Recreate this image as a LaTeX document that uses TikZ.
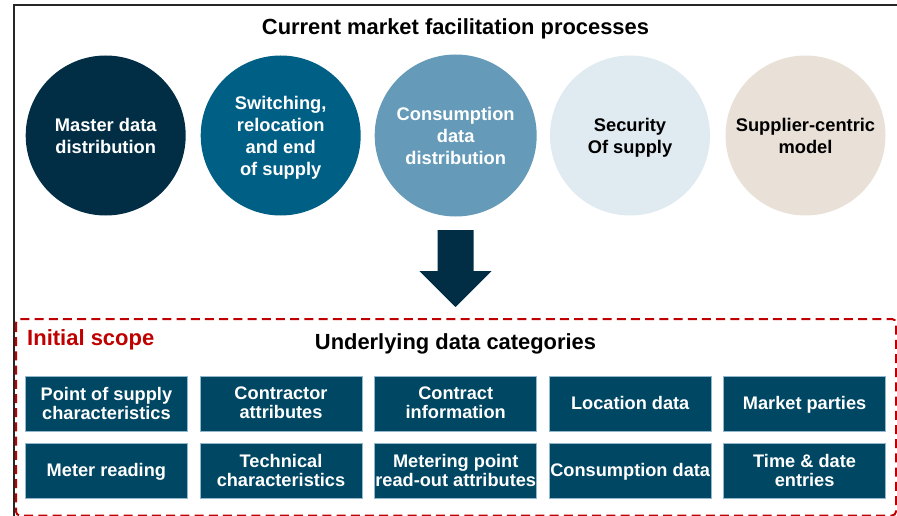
\documentclass[tikz,border=0pt]{standalone}
\usepackage{fontspec}
\setmainfont{Liberation Sans}
\usepackage{xcolor}
\definecolor{navy}{HTML}{012E45}
\definecolor{petrol}{HTML}{005F85}
\definecolor{steel}{HTML}{659AB9}
\definecolor{mist}{HTML}{E0EAF1}
\definecolor{sand}{HTML}{E9E0D8}
\definecolor{boxfill}{HTML}{004763}
\definecolor{scopered}{HTML}{C00000}
\tikzset{
  frameline/.style={draw=black!85, line width=1.3pt},
  scopeline/.style={draw=scopered, line width=2pt, dash pattern=on 9pt off 5.2pt, rounded corners=4pt},
  proc/.style={circle, minimum size=160pt, inner sep=0pt, align=center, text depth=0pt, font=\fontsize{18.3}{22}\selectfont\bfseries},
  cat/.style={rectangle, draw=steel!70, line width=0.5pt, fill=boxfill, text=white, minimum width=162pt, minimum height=55pt, inner sep=0pt, align=center, text depth=1.4pt, font=\fontsize{18.2}{19}\selectfont\bfseries},
  head/.style={text=black, font=\fontsize{21.9}{24}\selectfont\bfseries},
}
\begin{document}
\begin{tikzpicture}[x=1pt,y=-1pt]
  \useasboundingbox (0,0) rectangle (897,516);
  % outer frame runs off the page on two sides
  \draw[frameline] (14,520) -- (14,5) -- (900,5);
  \node[head] (title) at (455.5,28.5) {Current market facilitation processes};
  % process circles
  \node[proc,fill=navy,text=white] (master) at (105.7,135.5) {Master data\\distribution};
  \node[proc,fill=petrol,text=white] (switching) at (280.7,135.5) {Switching,\\relocation\\and end\\of supply};
  \node[proc,fill=steel,text=white,minimum size=162pt] (consumption) at (455.7,135.5) {Consumption\\data\\distribution};
  \node[proc,fill=mist,text=black] (security) at (630,135.5) {Security\\Of supply};
  \node[proc,fill=sand,text=black] (supplier) at (805.5,135.5) {Supplier-centric\\model};
  % block arrow
  \fill[navy] (437.7,230) -- (473.5,230) -- (473.5,271) -- (491.7,271) -- (455.5,307)
    -- (419.3,271) -- (437.7,271) -- cycle;
  % scope box
  \draw[scopeline] (16,319) rectangle (896,515.5);
  \node[text=scopered, font=\fontsize{22}{24}\selectfont\bfseries, anchor=west, inner sep=0pt] (scope) at (27,339.5) {Initial scope};
  \node[head] (under) at (455.5,343.5) {Underlying data categories};
  % data categories
  \node[cat] (c11) at (106.4,403.7) {Point of supply\\characteristics};
  \node[cat] (c12) at (281,403.7) {Contractor\\attributes};
  \node[cat] (c13) at (455.7,403.7) {Contract\\information};
  \node[cat] (c14) at (630.2,403.7) {Location data};
  \node[cat] (c15) at (804.6,403.7) {Market parties};
  \node[cat] (c21) at (106.4,471) {Meter reading};
  \node[cat] (c22) at (281,471) {Technical\\characteristics};
  \node[cat] (c23) at (455.7,471) {Metering point\\read-out attributes};
  \node[cat] (c24) at (630.2,471) {Consumption data};
  \node[cat] (c25) at (804.6,471) {Time \& date\\entries};
\end{tikzpicture}
\end{document}
